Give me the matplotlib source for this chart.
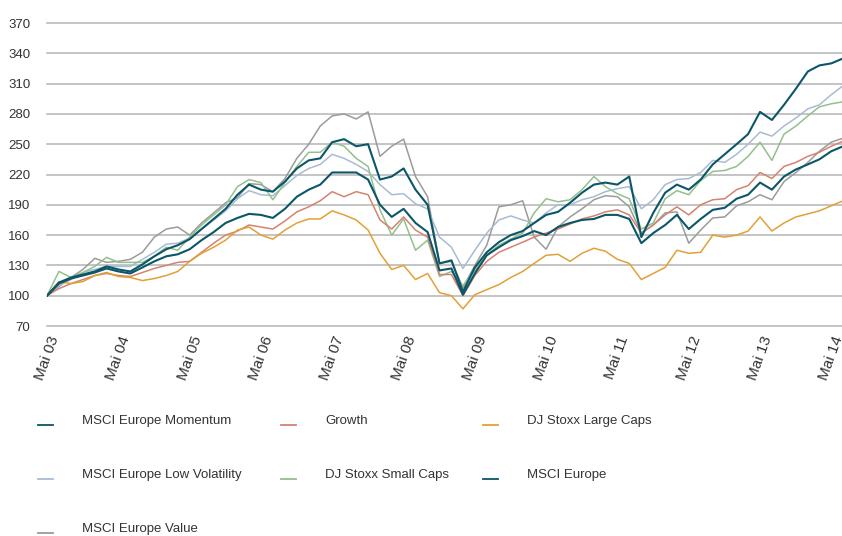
import numpy as np
import pandas as pd
import matplotlib.pyplot as plt
from matplotlib.lines import Line2D

# ==========================================
# DATA (index, Mai 2003 = 100, values every 2 months)
# ==========================================
START = "2003-05-01"
N_POINTS = 68

value = [100, 109, 118, 126, 137, 133, 134, 136, 143, 158, 166, 168,
         160, 172, 182, 192, 197, 211, 210, 203, 216, 236, 250,
         268, 278, 280, 275, 282, 238, 248, 255, 218, 198, 132,
         134, 108, 130, 150, 188, 190, 194, 158, 146, 168, 178, 186,
         195, 199, 198, 188, 162, 170, 182, 183, 152, 165, 177, 178,
         189, 193, 200, 195, 213, 222, 232, 243, 252, 256]

low_vol = [100, 110, 116, 123, 126, 129, 129, 129, 136, 143, 151, 152,
           157, 166, 175, 184, 196, 204, 200, 199, 209, 219, 226,
           230, 240, 236, 230, 223, 210, 200, 201, 191, 186, 158,
           148, 127, 145, 162, 175, 179, 175, 172, 182, 190, 190, 195,
           198, 203, 206, 208, 186, 195, 210, 215, 216, 222, 234, 232,
           240, 250, 262, 258, 268, 276, 285, 289, 299, 308]

small_caps = [100, 124, 118, 123, 129, 138, 133, 133, 133, 139, 148, 145,
              158, 170, 180, 190, 208, 215, 212, 195, 212, 228, 242,
              242, 252, 248, 236, 228, 185, 160, 176, 145, 155, 119,
              124, 110, 125, 140, 150, 156, 162, 182, 196, 193, 195, 205,
              218, 208, 201, 196, 166, 172, 196, 204, 200, 214, 223, 224,
              228, 238, 252, 234, 260, 268, 278, 287, 290, 292]

momentum = [100, 113, 118, 121, 124, 129, 126, 124, 131, 139, 146, 150,
            156, 166, 176, 186, 200, 210, 205, 203, 213, 226, 234,
            236, 252, 255, 248, 250, 215, 218, 226, 205, 190, 132,
            135, 104, 128, 143, 153, 160, 164, 172, 180, 183, 192, 202,
            210, 212, 210, 218, 158, 182, 202, 210, 205, 215, 230, 240,
            250, 260, 282, 274, 289, 305, 322, 328, 330, 335]

msci_europe = [100, 112, 117, 120, 123, 127, 124, 122, 128, 134, 139, 141,
               146, 155, 163, 172, 177, 181, 180, 177, 186, 198, 205,
               210, 222, 222, 222, 215, 190, 178, 186, 172, 163, 125,
               127, 101, 122, 140, 148, 155, 159, 164, 160, 168, 172, 175,
               176, 180, 180, 176, 152, 162, 170, 180, 166, 176, 185, 187,
               196, 200, 212, 205, 218, 225, 230, 235, 243, 248]

growth = [100, 107, 112, 116, 120, 122, 120, 119, 123, 127, 130, 133,
          134, 143, 152, 160, 164, 170, 168, 166, 174, 183, 188,
          194, 203, 198, 203, 200, 175, 166, 178, 165, 158, 121,
          121, 100, 120, 134, 143, 148, 153, 158, 162, 166, 171, 176,
          179, 183, 185, 180, 162, 170, 180, 188, 180, 190, 195, 196,
          205, 209, 222, 216, 228, 232, 238, 242, 248, 253]

large_caps = [100, 114, 112, 114, 120, 123, 119, 118, 115, 117, 120, 124,
              134, 142, 148, 155, 165, 168, 160, 156, 165, 172, 176,
              176, 184, 180, 175, 165, 142, 126, 130, 116, 122, 103,
              100, 87, 101, 106, 111, 118, 124, 132, 140, 141, 134, 142,
              147, 144, 136, 132, 116, 122, 128, 145, 142, 143, 160, 158,
              160, 164, 178, 164, 172, 178, 181, 184, 189, 194]

x_labels = ["Mai 03", "Mai 04", "Mai 05", "Mai 06", "Mai 07", "Mai 08",
            "Mai 09", "Mai 10", "Mai 11", "Mai 12", "Mai 13", "Mai 14"]

# ==========================================
# STYLE
# ==========================================
plt.rcParams['font.family'] = ['Liberation Sans', 'DejaVu Sans']
FONT_SIZE = 9.5
XLABEL_SIZE = 11
TEXT_COLOR = "#333333"
TEAL = "#0b5668"

# drawn back to front
series = [
    ("MSCI Europe Value", value, "#9b9b9b", 1.1),
    ("MSCI Europe Low Volatility", low_vol, "#a7bcd3", 1.1),
    ("DJ Stoxx Small Caps", small_caps, "#93c08c", 1.1),
    ("Growth", growth, "#d6826f", 1.1),
    ("DJ Stoxx Large Caps", large_caps, "#e3a035", 1.1),
    ("MSCI Europe", msci_europe, TEAL, 1.5),
    ("MSCI Europe Momentum", momentum, TEAL, 1.5),
]

dates = pd.date_range(START, periods=N_POINTS, freq="2MS")

fig = plt.figure(figsize=(8.42, 5.36), dpi=100)
ax = fig.add_axes([47 / 842, 1 - 326 / 536, 795 / 842, 303 / 536])

for name, vals, color, lw in series:
    ax.plot(dates, vals, color=color, lw=lw, solid_joinstyle="round")

ax.set_ylim(70, 370)
ax.set_yticks(np.arange(70, 371, 30))
ax.yaxis.grid(True, color="#b4b4b4", lw=1.1)
for gl in ax.get_ygridlines():
    gl.set_clip_on(False)
ax.set_axisbelow(True)
for s in ax.spines.values():
    s.set_visible(False)

ax.set_xlim(pd.Timestamp("2003-05-01"), pd.Timestamp("2014-06-25"))
ax.set_xticks(pd.to_datetime([f"{2003 + k}-05-01" for k in range(len(x_labels))]))
ax.set_xticklabels(x_labels, rotation=70, ha="center", va="top")
ax.tick_params(axis="x", length=0, pad=6, labelsize=XLABEL_SIZE, labelcolor=TEXT_COLOR)
ax.tick_params(axis="y", length=0, pad=12, labelsize=FONT_SIZE, labelcolor=TEXT_COLOR)

# ==========================================
# LEGEND (3 columns, drawn by hand)
# ==========================================
legend_order = [
    ("MSCI Europe Momentum", TEAL, 0, 0),
    ("Growth", "#d6826f", 1, 0),
    ("DJ Stoxx Large Caps", "#e3a035", 2, 0),
    ("MSCI Europe Low Volatility", "#a7bcd3", 0, 1),
    ("DJ Stoxx Small Caps", "#93c08c", 1, 1),
    ("MSCI Europe", TEAL, 2, 1),
    ("MSCI Europe Value", "#9b9b9b", 0, 2),
]
col_handle_x = [38, 281, 483]
col_text_x = [82, 325, 527]
row_y = [420, 474, 528]

for label, color, col, row in legend_order:
    y_line = 1 - (row_y[row] + 5) / 536
    fig.add_artist(Line2D([col_handle_x[col] / 842, (col_handle_x[col] + 15) / 842],
                          [y_line, y_line], color=color, lw=1.3,
                          transform=fig.transFigure))
    fig.text(col_text_x[col] / 842, 1 - (row_y[row] + 4) / 536, label,
             ha="left", va="baseline", fontsize=FONT_SIZE, color=TEXT_COLOR)

fig.savefig("out.png", dpi=100)
